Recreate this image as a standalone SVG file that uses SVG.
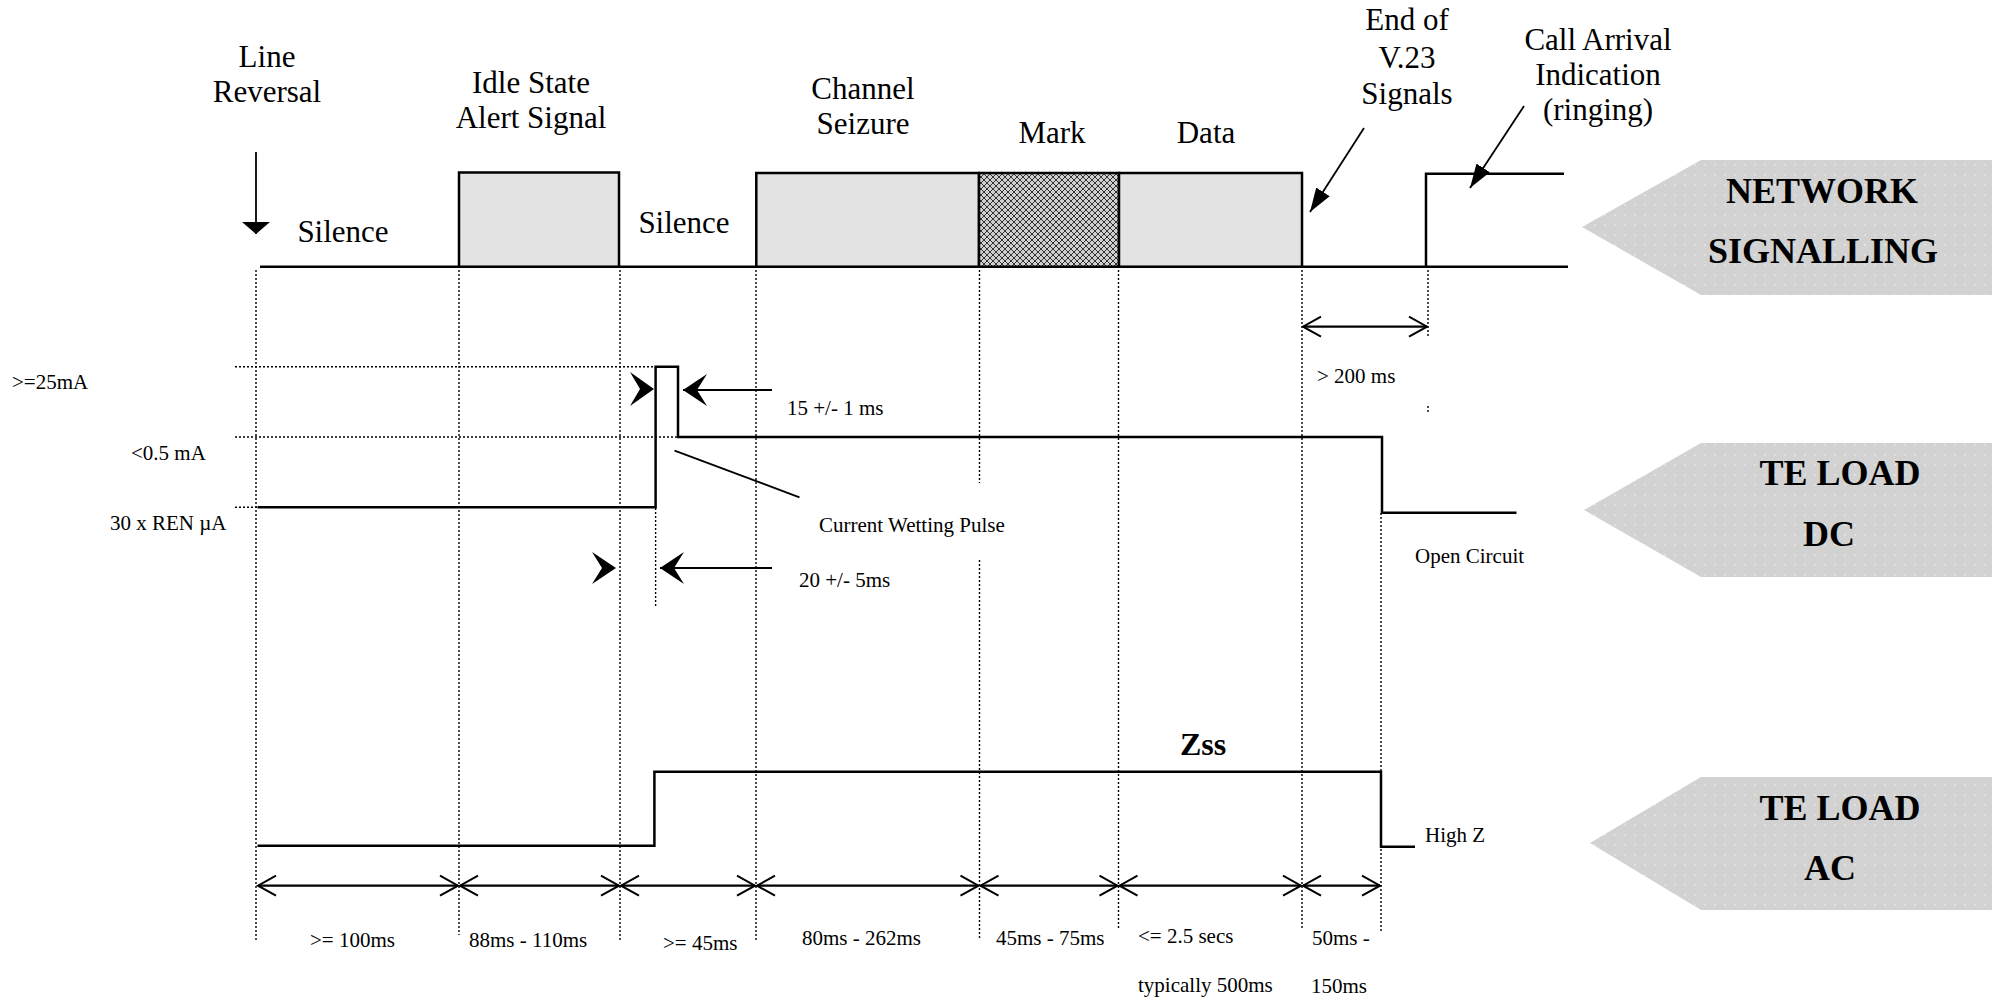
<svg xmlns="http://www.w3.org/2000/svg" width="1992" height="1000" viewBox="0 0 1992 1000">
<style>
text{font-family:"Liberation Serif","Times New Roman",serif;fill:#000}
.lg{font-size:31px;text-anchor:middle}
.sm{font-size:21px}
.bd{font-size:36px;font-weight:bold;text-anchor:middle}
.dot{stroke:#000;stroke-width:1.4;stroke-dasharray:2 2;fill:none}
.tr{stroke:#000;stroke-width:2.5;fill:none}
.box{fill:#e3e3e3;stroke:#000;stroke-width:2.5}
.dim{stroke:#000;stroke-width:2.2;fill:none;marker-start:url(#open);marker-end:url(#open)}
.ptr{stroke:#000;stroke-width:1.8;fill:none;marker-end:url(#solid)}
.tag{fill:url(#dots)}
</style>
<defs>
<marker id="open" markerUnits="userSpaceOnUse" markerWidth="24" markerHeight="24" viewBox="0 0 24 24" refX="20" refY="12" orient="auto-start-reverse">
<path d="M2,2 L20,12 L2,22" fill="none" stroke="#000" stroke-width="2"/>
</marker>
<marker id="solid" markerUnits="userSpaceOnUse" markerWidth="26" markerHeight="18" viewBox="0 0 26 18" refX="24" refY="9" orient="auto">
<path d="M0,1 L24,9 L0,17 Z" fill="#000"/>
</marker>
<marker id="flat" markerUnits="userSpaceOnUse" markerWidth="14" markerHeight="30" viewBox="0 0 14 30" refX="12" refY="15" orient="auto">
<path d="M0,1 L12,15 L0,29 Z" fill="#000"/>
</marker>
<pattern id="dots" patternUnits="userSpaceOnUse" width="10" height="10">
<rect width="10" height="10" fill="#d2d2d2"/>
<circle cx="5" cy="5" r="0.9" fill="#e8e8e8"/>
</pattern>
<pattern id="hatch" patternUnits="userSpaceOnUse" width="6" height="6">
<rect width="6" height="6" fill="#cfcfcf"/>
<path d="M0,0 L6,6 M0,6 L6,0" stroke="#333" stroke-width="1"/>
</pattern>
</defs>

<g id="tags">
<g id="tag-network">
<path class="tag" d="M1582,227 L1701,160 L1992,160 L1992,295 L1701,295 Z"/>
<text class="bd" x="1822" y="203">NETWORK</text>
<text class="bd" x="1823" y="263">SIGNALLING</text>
</g>
<g id="tag-dc">
<path class="tag" d="M1584,510 L1701,443 L1992,443 L1992,577 L1701,577 Z"/>
<text class="bd" x="1840" y="485">TE LOAD</text>
<text class="bd" x="1829" y="546">DC</text>
</g>
<g id="tag-ac">
<path class="tag" d="M1590,843 L1701,777 L1992,777 L1992,910 L1701,910 Z"/>
<text class="bd" x="1840" y="820">TE LOAD</text>
<text class="bd" x="1830" y="880">AC</text>
</g>
</g>

<g id="gridlines">
<path class="dot" d="M256,270 V942 M459,270 V935 M620,270 V940 M756,270 V942 M979.5,270 V483 M979.5,560 V938 M1118.5,270 V928 M1302,270 V928 M1381,513 V933 M1428,270 V337 M1428,406 V413 M655.6,508 V607"/>
<path class="dot" d="M235,366.7 H655.6 M235,437 H678 M235,507.3 H257.5"/>
</g>

<g id="network-signalling">
<path class="tr" d="M260,266.7 H1568"/>
<rect id="idle-box" class="box" x="459" y="172.5" width="160" height="94.2"/>
<rect id="seizure-box" class="box" x="756.3" y="173" width="222.7" height="93.7"/>
<rect id="mark-box" x="979" y="173" width="140" height="93.7" fill="url(#hatch)" stroke="#000" stroke-width="2.5"/>
<rect id="data-box" class="box" x="1119" y="173" width="183" height="93.7"/>
<path class="tr" d="M1426,266.7 V173.7 H1564"/>
</g>

<g id="dc-load">
<path class="tr" d="M257.5,507.3 H655.6 V366.7 H678 V437 H1382 V512.7 H1516.5"/>
</g>

<g id="ac-load">
<path class="tr" d="M257.5,845.7 H654.4 V771.7 H1381 V846.7 H1415"/>
</g>

<g id="connectors">
<path d="M256,152 V234" stroke="#000" stroke-width="1.8" fill="none" marker-end="url(#flat)"/>
<path class="ptr" d="M1364,128 L1310,212"/>
<path class="ptr" d="M1524,106 L1470,188"/>
<path d="M674.6,450.7 L799.5,497.3" stroke="#000" stroke-width="1.8"/>
<path d="M683,390 H772 M660,568 H772" stroke="#000" stroke-width="1.8"/>
<path d="M654,389 L630,372 L640,389 L630,406 Z M683,390 L707,374 L697,390 L707,406 Z M616,568 L592,552 L602,568 L592,584 Z M660,568 L684,552 L674,568 L684,584 Z" fill="#000"/>
<path class="dim" d="M1303,326.7 H1427"/>
<path class="dim" d="M258,885.7 H458"/>
<path class="dim" d="M460,885.7 H619"/>
<path class="dim" d="M621,885.7 H755"/>
<path class="dim" d="M757,885.7 H978.5"/>
<path class="dim" d="M980.5,885.7 H1117.5"/>
<path class="dim" d="M1119.5,885.7 H1301"/>
<path class="dim" d="M1303,885.7 H1380"/>
</g>

<g id="labels">
<text class="lg" x="267" y="67">Line</text>
<text class="lg" x="267" y="102">Reversal</text>
<text class="lg" x="531" y="93">Idle State</text>
<text class="lg" x="531" y="128">Alert Signal</text>
<text class="lg" x="343" y="242">Silence</text>
<text class="lg" x="684" y="233">Silence</text>
<text class="lg" x="863" y="99">Channel</text>
<text class="lg" x="863" y="134">Seizure</text>
<text class="lg" x="1052" y="143">Mark</text>
<text class="lg" x="1206" y="143">Data</text>
<text class="lg" x="1407" y="30">End of</text>
<text class="lg" x="1407" y="68">V.23</text>
<text class="lg" x="1407" y="104">Signals</text>
<text class="lg" x="1598" y="50">Call Arrival</text>
<text class="lg" x="1598" y="85">Indication</text>
<text class="lg" x="1598" y="120">(ringing)</text>
<text x="1203" y="755" style="font-size:32px;font-weight:bold;text-anchor:middle">Zss</text>
<text class="sm" x="12" y="389">&gt;=25mA</text>
<text class="sm" x="131" y="460">&lt;0.5 mA</text>
<text class="sm" x="110" y="530">30 x REN µA</text>
<text class="sm" x="787" y="415">15 +/- 1 ms</text>
<text class="sm" x="819" y="532">Current Wetting Pulse</text>
<text class="sm" x="799" y="587">20 +/- 5ms</text>
<text class="sm" x="1317" y="383">&gt; 200 ms</text>
<text class="sm" x="1415" y="563">Open Circuit</text>
<text class="sm" x="1425" y="842">High Z</text>
<text class="sm" x="310" y="947">&gt;= 100ms</text>
<text class="sm" x="469" y="947">88ms - 110ms</text>
<text class="sm" x="663" y="950">&gt;= 45ms</text>
<text class="sm" x="802" y="945">80ms - 262ms</text>
<text class="sm" x="996" y="945">45ms - 75ms</text>
<text class="sm" x="1138" y="943">&lt;= 2.5 secs</text>
<text class="sm" x="1138" y="992">typically 500ms</text>
<text class="sm" x="1312" y="945">50ms -</text>
<text class="sm" x="1311" y="993">150ms</text>
</g>
</svg>
